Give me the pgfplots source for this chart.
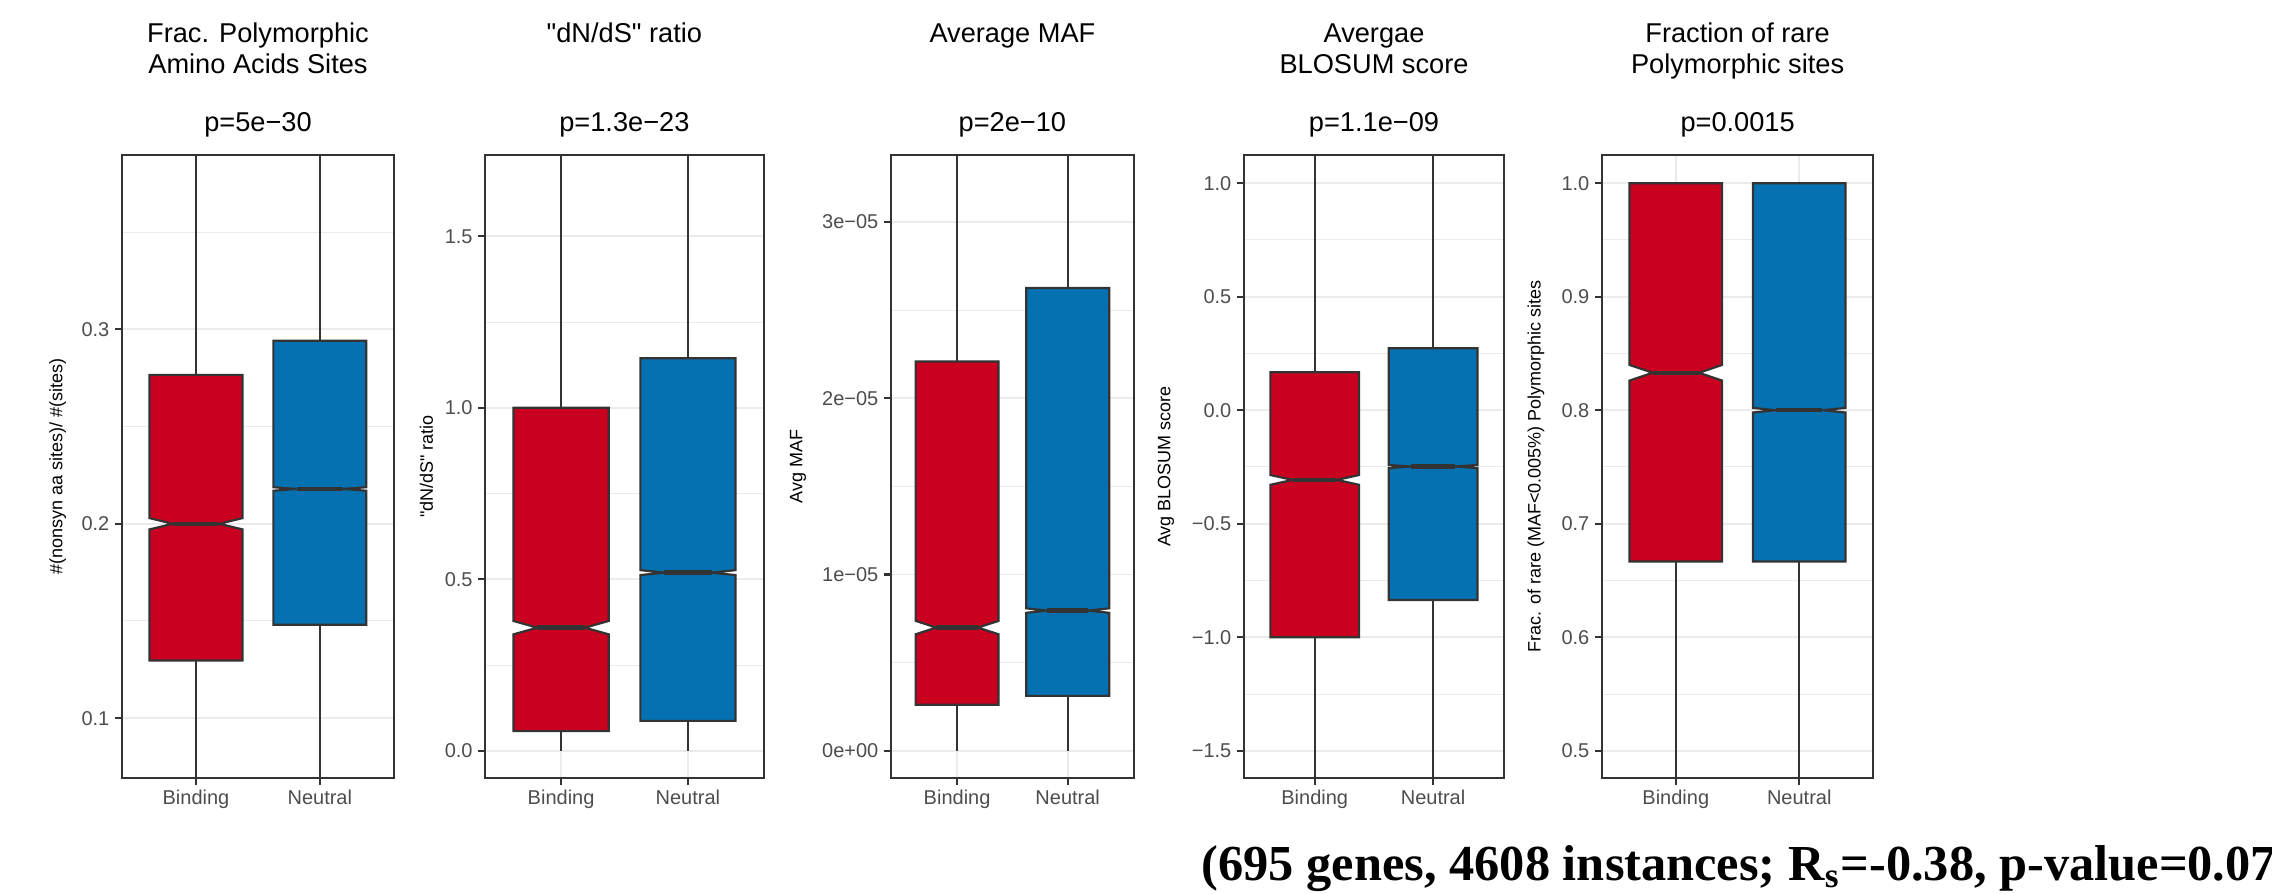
\documentclass[border=0pt]{standalone}
\usepackage{fontspec}
\setmainfont{Liberation Sans}
\newfontfamily\notefont{Liberation Serif}
\usepackage{pgfplots}
\pgfplotsset{compat=1.18}

\definecolor{bind}{HTML}{CA0020}
\definecolor{neut}{HTML}{0571B0}
\definecolor{gray20}{HTML}{333333}
\definecolor{gray30}{HTML}{4D4D4D}
\definecolor{gridc}{HTML}{EBEBEB}

% one panel = one axis, placed by its lower left corner (1px of the original = 0.25pt)
\pgfplotsset{
  boxpanel/.style={
    scale only axis, height=155.75pt, anchor=south west,
    xmin=0.4, xmax=2.6, xtick={1,2}, xticklabels={Binding,Neutral},
    xtick pos=bottom, ytick pos=left, tick align=outside,
    major tick length=1.7pt, minor tick length=0pt,
    axis line style={draw=gray20, line width=0.55pt},
    tick style={draw=gray20, line width=0.55pt},
    grid=both,
    major grid style={draw=gridc, line width=0.45pt},
    minor grid style={draw=gridc, line width=0.25pt},
    tick label style={font=\fontsize{5}{6}\selectfont, text=gray30},
    yticklabel style={anchor=east, inner sep=0pt, xshift=-1.2pt},
    xticklabel style={anchor=north, inner sep=0pt, yshift=-1pt},
    scaled y ticks=false,
  },
  whisk/.style={draw=gray20, line width=0.55pt},
  med/.style={draw=gray20, line width=1.1pt},
  bbox/.style={fill=bind, draw=gray20, line width=0.55pt},
  nbox/.style={fill=neut, draw=gray20, line width=0.55pt},
}

\begin{document}
\begin{tikzpicture}
\path[use as bounding box] (0,0) rectangle (568pt,-223.25pt);
\clip (0,0) rectangle (568pt,-223.25pt);

% ---- Frac. polymorphic aa sites
\begin{axis}[boxpanel, at={(30.43pt,-194.5pt)}, width=68.1pt,
  ymin=0.0692, ymax=0.3897, ytick={0.1,0.2,0.3}, yticklabels={0.1,0.2,0.3},
  minor ytick={0.15,0.25,0.35}]
\addplot[whisk] coordinates {(1,0.0692) (1,0.1297)};
\addplot[whisk] coordinates {(1,0.2766) (1,0.3897)};
\addplot[whisk] coordinates {(2,0.0692) (2,0.1480)};
\addplot[whisk] coordinates {(2,0.2942) (2,0.3897)};
\addplot[bbox] coordinates {(0.625,0.1297) (1.375,0.1297) (1.375,0.1971) (1.1875,0.2000) (1.375,0.2029) (1.375,0.2766) (0.625,0.2766) (0.625,0.2029) (0.8125,0.2000) (0.625,0.1971)} -- cycle;
\addplot[nbox] coordinates {(1.625,0.1480) (2.375,0.1480) (2.375,0.2170) (2.1875,0.2179) (2.375,0.2188) (2.375,0.2942) (1.625,0.2942) (1.625,0.2188) (1.8125,0.2179) (1.625,0.2170)} -- cycle;
\addplot[med] coordinates {(0.8125,0.2000) (1.1875,0.2000)};
\addplot[med] coordinates {(1.8125,0.2179) (2.1875,0.2179)};
\end{axis}

% ---- dN/dS
\begin{axis}[boxpanel, at={(121.25pt,-194.5pt)}, width=69.75pt,
  ymin=-0.0794, ymax=1.737, ytick={0,0.5,1,1.5}, yticklabels={0.0,0.5,1.0,1.5},
  minor ytick={0.25,0.75,1.25}]
\addplot[whisk] coordinates {(1,0) (1,0.0573)};
\addplot[whisk] coordinates {(1,1.0) (1,1.737)};
\addplot[whisk] coordinates {(2,0) (2,0.0872)};
\addplot[whisk] coordinates {(2,1.1445) (2,1.737)};
\addplot[bbox] coordinates {(0.625,0.0573) (1.375,0.0573) (1.375,0.3395) (1.1875,0.3590) (1.375,0.3785) (1.375,1.0) (0.625,1.0) (0.625,0.3785) (0.8125,0.3590) (0.625,0.3395)} -- cycle;
\addplot[nbox] coordinates {(1.625,0.0872) (2.375,0.0872) (2.375,0.5123) (2.1875,0.5195) (2.375,0.5267) (2.375,1.1445) (1.625,1.1445) (1.625,0.5267) (1.8125,0.5195) (1.625,0.5123)} -- cycle;
\addplot[med] coordinates {(0.8125,0.3590) (1.1875,0.3590)};
\addplot[med] coordinates {(1.8125,0.5195) (2.1875,0.5195)};
\end{axis}

% ---- Average MAF
\begin{axis}[boxpanel, at={(222.68pt,-194.5pt)}, width=60.83pt,
  ymin=-0.1545e-5, ymax=3.38e-5, ytick={0,1e-5,2e-5,3e-5},
  yticklabels={0e+00,1e−05,2e−05,3e−05},
  minor ytick={0.5e-5,1.5e-5,2.5e-5}]
\addplot[whisk] coordinates {(1,0) (1,0.261e-5)};
\addplot[whisk] coordinates {(1,2.209e-5) (1,3.38e-5)};
\addplot[whisk] coordinates {(2,0) (2,0.3116e-5)};
\addplot[whisk] coordinates {(2,2.625e-5) (2,3.38e-5)};
\addplot[bbox] coordinates {(0.625,0.261e-5) (1.375,0.261e-5) (1.375,0.661e-5) (1.1875,0.699e-5) (1.375,0.737e-5) (1.375,2.209e-5) (0.625,2.209e-5) (0.625,0.737e-5) (0.8125,0.699e-5) (0.625,0.661e-5)} -- cycle;
\addplot[nbox] coordinates {(1.625,0.3116e-5) (2.375,0.3116e-5) (2.375,0.7828e-5) (2.1875,0.7955e-5) (2.375,0.8082e-5) (2.375,2.625e-5) (1.625,2.625e-5) (1.625,0.8082e-5) (1.8125,0.7955e-5) (1.625,0.7828e-5)} -- cycle;
\addplot[med] coordinates {(0.8125,0.699e-5) (1.1875,0.699e-5)};
\addplot[med] coordinates {(1.8125,0.7955e-5) (2.1875,0.7955e-5)};
\end{axis}

% ---- BLOSUM
\begin{axis}[boxpanel, at={(310.93pt,-194.5pt)}, width=65.08pt,
  ymin=-1.62, ymax=1.124, ytick={-1.5,-1,-0.5,0,0.5,1},
  yticklabels={−1.5,−1.0,−0.5,0.0,0.5,1.0},
  minor ytick={-1.25,-0.75,-0.25,0.25,0.75}]
\addplot[whisk] coordinates {(1,-1.62) (1,-1.0)};
\addplot[whisk] coordinates {(1,0.167) (1,1.124)};
\addplot[whisk] coordinates {(2,-1.62) (2,-0.836)};
\addplot[whisk] coordinates {(2,0.273) (2,1.124)};
\addplot[bbox] coordinates {(0.625,-1.0) (1.375,-1.0) (1.375,-0.3286) (1.1875,-0.307) (1.375,-0.2854) (1.375,0.167) (0.625,0.167) (0.625,-0.2854) (0.8125,-0.307) (0.625,-0.3286)} -- cycle;
\addplot[nbox] coordinates {(1.625,-0.836) (2.375,-0.836) (2.375,-0.2549) (2.1875,-0.248) (2.375,-0.2411) (2.375,0.273) (1.625,0.273) (1.625,-0.2411) (1.8125,-0.248) (1.625,-0.2549)} -- cycle;
\addplot[med] coordinates {(0.8125,-0.307) (1.1875,-0.307)};
\addplot[med] coordinates {(1.8125,-0.248) (2.1875,-0.248)};
\end{axis}

% ---- rare polymorphic sites
\begin{axis}[boxpanel, at={(400.43pt,-194.5pt)}, width=67.9pt,
  ymin=0.476, ymax=1.0248, ytick={0.5,0.6,0.7,0.8,0.9,1.0},
  yticklabels={0.5,0.6,0.7,0.8,0.9,1.0},
  minor ytick={0.55,0.65,0.75,0.85,0.95}]
\addplot[whisk] coordinates {(1,0.476) (1,0.6667)};
\addplot[whisk] coordinates {(2,0.476) (2,0.6667)};
\addplot[bbox] coordinates {(0.625,0.6667) (1.375,0.6667) (1.375,0.8261) (1.1875,0.833) (1.375,0.8399) (1.375,1.0) (0.625,1.0) (0.625,0.8399) (0.8125,0.833) (0.625,0.8261)} -- cycle;
\addplot[nbox] coordinates {(1.625,0.6667) (2.375,0.6667) (2.375,0.798) (2.1875,0.8) (2.375,0.802) (2.375,1.0) (1.625,1.0) (1.625,0.802) (1.8125,0.8) (1.625,0.798)} -- cycle;
\addplot[med] coordinates {(0.8125,0.833) (1.1875,0.833)};
\addplot[med] coordinates {(1.8125,0.8) (2.1875,0.8)};
\end{axis}

% titles, p-values, y labels
\begin{scope}[every node/.style={inner sep=0pt, anchor=base, font=\fontsize{6.8}{8.2}\selectfont}]
\node at (64.5pt,-10.7pt) {Frac. Polymorphic};
\node at (64.5pt,-18.25pt) {Amino Acids Sites};
\node at (156.1pt,-10.7pt) {\textquotedbl dN/dS\textquotedbl\ ratio};
\node at (253.1pt,-10.7pt) {Average MAF};
\node at (343.5pt,-10.7pt) {Avergae};
\node at (343.5pt,-18.25pt) {BLOSUM score};
\node at (434.4pt,-10.7pt) {Fraction of rare};
\node at (434.4pt,-18.25pt) {Polymorphic sites};
\node at (64.5pt,-32.9pt) {p=5e−30};
\node at (156.1pt,-32.9pt) {p=1.3e−23};
\node at (253.1pt,-32.9pt) {p=2e−10};
\node at (343.5pt,-32.9pt) {p=1.1e−09};
\node at (434.4pt,-32.9pt) {p=0.0015};
\end{scope}
\begin{scope}[every node/.style={inner sep=0pt, anchor=center, rotate=90, font=\fontsize{4.5}{5.5}\selectfont}]
\node at (14.4pt,-116.6pt) {\#(nonsyn aa sites)/ \#(sites)};
\node at (106.6pt,-116.6pt) {\textquotedbl dN/dS\textquotedbl\ ratio};
\node at (199.5pt,-116.6pt) {Avg MAF};
\node at (291.5pt,-116.6pt) {Avg BLOSUM score};
\node at (384pt,-116.6pt) {Frac. of rare (MAF<0.005\%) Polymorphic sites};
\end{scope}

\node[anchor=base west, inner sep=0pt, font=\notefont\bfseries\fontsize{12.6}{14}\selectfont]
  at (300.25pt,-220pt) {(695 genes, 4608 instances; R\textsubscript{s}=-0.38, p-value=0.07};
\end{tikzpicture}
\end{document}
